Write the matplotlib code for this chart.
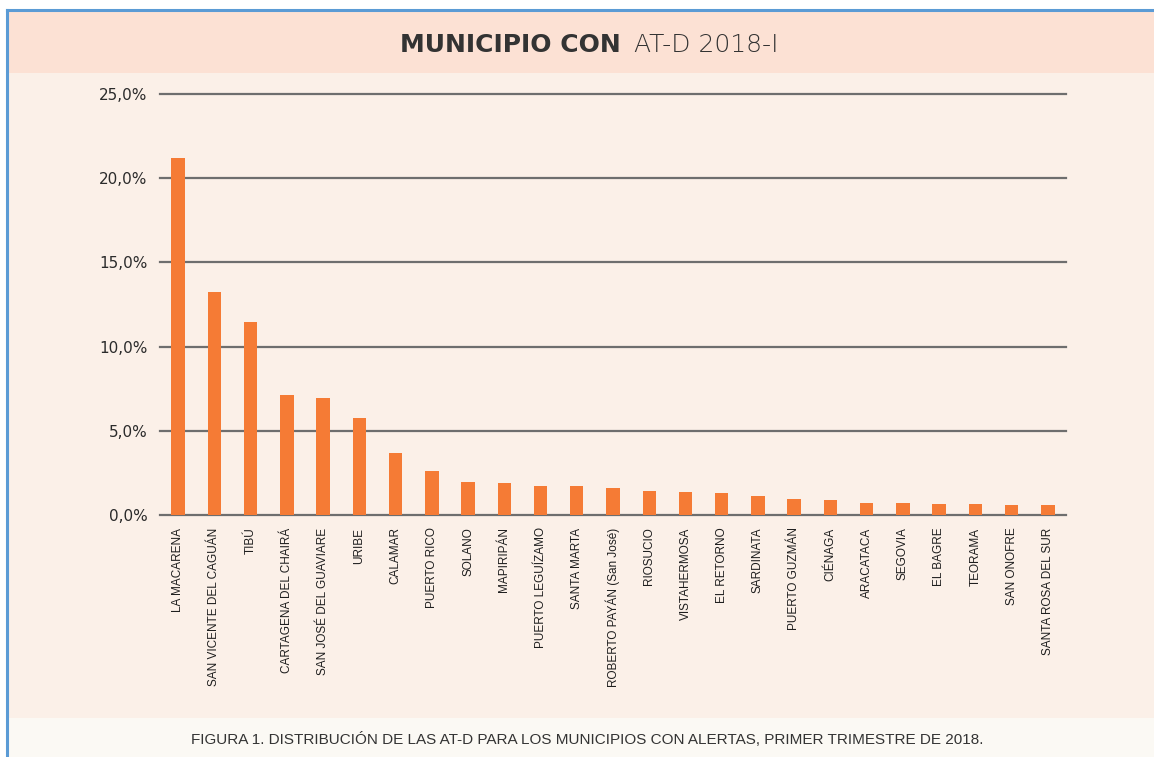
import matplotlib
matplotlib.use("Agg")
import matplotlib.pyplot as plt
from matplotlib.patches import Rectangle
from matplotlib.lines import Line2D
from matplotlib.ticker import FuncFormatter

municipios = ["LA MACARENA", "SAN VICENTE DEL CAGUÁN", "TIBÚ", "CARTAGENA DEL CHAIRÁ",
              "SAN JOSÉ DEL GUAVIARE", "URIBE", "CALAMAR", "PUERTO RICO", "SOLANO",
              "MAPIRIPÁN", "PUERTO LEGUÍZAMO", "SANTA MARTA", "ROBERTO PAYÁN (San José)",
              "RIOSUCIO", "VISTAHERMOSA", "EL RETORNO", "SARDINATA", "PUERTO GUZMÁN",
              "CIÉNAGA", "ARACATACA", "SEGOVIA", "EL BAGRE", "TEORAMA", "SAN ONOFRE",
              "SANTA ROSA DEL SUR"]
porcentaje = [21.2, 13.26, 11.48, 7.13, 6.93, 5.74, 3.66, 2.63, 1.96, 1.90, 1.70, 1.70,
              1.60, 1.43, 1.37, 1.31, 1.11, 0.93, 0.87, 0.69, 0.69, 0.65, 0.65, 0.57, 0.57]
yticks = [0, 5, 10, 15, 20, 25]

titulo_bold = "MUNICIPIO CON"
titulo_light = "AT-D 2018-I"
pie = "FIGURA 1. DISTRIBUCIÓN DE LAS AT-D PARA LOS MUNICIPIOS CON ALERTAS, PRIMER TRIMESTRE DE 2018."

narrow = ["Liberation Sans Narrow", "Liberation Sans", "DejaVu Sans"]
W, H = 1154, 757

fig = plt.figure(figsize=(W / 100, H / 100), dpi=100)
fig.patch.set_facecolor("white")

# fondos: banda del titulo, zona del grafico, zona del pie
fig.patches.append(Rectangle((8 / W, 1 - 73 / H), 1, 61 / H, transform=fig.transFigure,
                             facecolor="#FCE1D4", edgecolor="none", zorder=-2))
fig.patches.append(Rectangle((8 / W, 1 - 718 / H), 1, 645 / H, transform=fig.transFigure,
                             facecolor="#FBF0E8", edgecolor="none", zorder=-2))
fig.patches.append(Rectangle((8 / W, 0), 1, 39 / H, transform=fig.transFigure,
                             facecolor="#FBF9F4", edgecolor="none", zorder=-2))
# borde azul
fig.lines.append(Line2D([7 / W, 7 / W], [0, 1 - 10 / H], transform=fig.transFigure,
                        color="#5B9BD5", lw=2.2))
fig.lines.append(Line2D([7 / W, 1], [1 - 10 / H, 1 - 10 / H], transform=fig.transFigure,
                        color="#5B9BD5", lw=2.2))

ax = fig.add_axes([160 / W, 1 - 515 / H, 906 / W, 421 / H])
ax.set_zorder(1)
ax.set_facecolor("none")
x = range(len(municipios))
ax.bar(x, porcentaje, width=0.37, color="#F57B35", zorder=3)
ax.set_xlim(-0.5, len(municipios) - 0.5)
ax.set_ylim(0, 25)
ax.set_yticks(yticks)
ax.yaxis.set_major_formatter(FuncFormatter(lambda v, p: f"{v:.1f}%".replace(".", ",")))
ax.grid(axis="y", color="#6E6E6E", lw=1.6, zorder=1)
ax.set_axisbelow(True)
for gl in ax.get_ygridlines():
    gl.set_clip_on(False)
for s in ax.spines.values():
    s.set_visible(False)
ax.tick_params(axis="y", length=0, pad=9, labelsize=11, labelcolor="#2B2B2B")
ax.tick_params(axis="x", length=0, pad=9)
ax.set_xticks(list(x))
ax.set_xticklabels(municipios, rotation=90, ha="center", va="top",
                   family=narrow, fontsize=8.5, color="#1E1E1E")

# titulo
fig.text(621 / W, 1 - 45 / H, titulo_bold, ha="right", va="center", fontsize=18,
         fontweight="bold", color="#333333")
fig.text(634 / W, 1 - 45 / H, titulo_light, ha="left", va="center", fontsize=18,
         fontweight="light", color="#333333")

# pie de figura
fig.text(587 / W, 1 - 740 / H, pie, ha="center", va="center", family=narrow,
         fontsize=11, color="#333333")

fig.savefig("out.png", dpi=100)
